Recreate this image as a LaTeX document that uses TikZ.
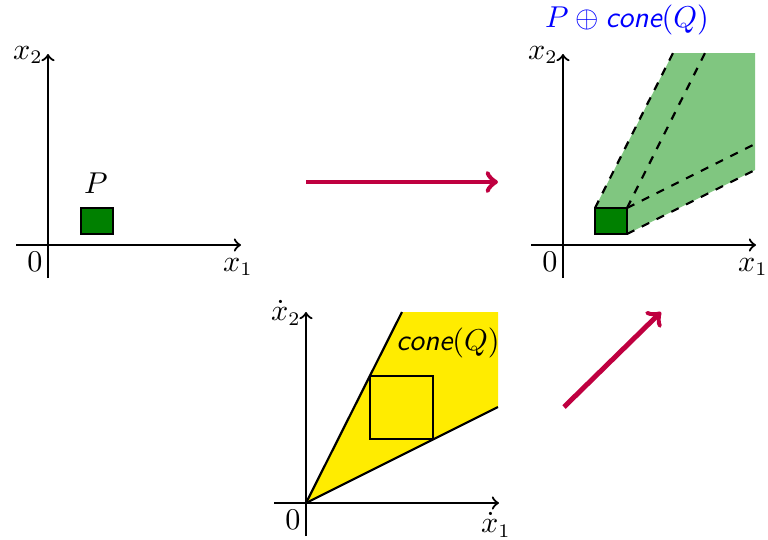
\documentclass[tikz,border=0pt]{standalone}
\usetikzlibrary{positioning}
\definecolor{conegreen}{RGB}{128,198,128}
\definecolor{coneyellow}{RGB}{255,236,0}
\tikzset{
  axis/.style    = {thick, ->},
  lbl/.style     = {inner sep=1pt, font=\fontsize{10.7}{13}\selectfont},
  setbox/.style  = {thick, draw=black},
  ray/.style     = {thick, dashed},
  mapsto/.style  = {->, line width=1.8pt, purple}
}

\begin{document}
\begin{tikzpicture}[x=0.01277cm, y=-0.01277cm]
  \useasboundingbox (0,0) rectangle (768,539);
  % cone(Q) region and Minkowski sum region
  \fill[coneyellow] (306,503) -- (402,312) -- (498,312) -- (498,407) -- cycle;
  \fill[conegreen] (595,234) -- (595,208) -- (673,53) -- (755,53) -- (755,170) -- (627,234) -- cycle;
  % axes
  \foreach \n/\ox/\oy/\xa/\xb in {L/48/245/{x_1}/{x_2}, R/563/245/{x_1}/{x_2}, C/306/503/{\dot x_1}/{\dot x_2}} {
    \begin{scope}[shift={(\ox,\oy)}]
      \coordinate (\n w) at (-32,0);  \coordinate (\n e) at (193,0);
      \coordinate (\n s) at (0,33);   \coordinate (\n n) at (0,-191);
      \draw[axis] (\n w) -- (\n e);
      \draw[axis] (\n s) -- (\n n);
      \node[lbl] (\n0) at (-13,17) {$0$};
      \node[lbl] (\n1) at (190,22) {$\xa$};
      \node[lbl] (\n2) at (-20,-190) {$\xb$};
    \end{scope}
  }
  % left: the set P
  \draw[setbox, fill=green!50!black] (81,208) rectangle (113,234);
  \node[lbl] (P) at (96,183) {$P$};
  % right: P + cone(Q)
  \coordinate (a) at (595,208); \coordinate (b) at (627,208); \coordinate (c) at (627,234);
  \draw[ray] (a) -- (673,53);
  \draw[ray] (b) -- (705,53);
  \draw[ray] (b) -- (755,144);
  \draw[ray] (c) -- (755,170);
  \draw[setbox, fill=green!50!black] (595,208) rectangle (627,234);
  \node[lbl, blue] (PQ) at (627,20) {$P \oplus \textsf{\itshape cone}(Q)$};
  % bottom: cone(Q)
  \coordinate (o) at (306,503);
  \draw[thick] (o) -- (402,312);
  \draw[thick] (o) -- (498,407);
  \draw[setbox] (370,376) rectangle (433,439);
  \node[lbl] (Q) at (448,343) {$\textsf{\itshape cone}(Q)$};
  % maps
  \coordinate (m1) at (306,182); \coordinate (m2) at (498,182);
  \coordinate (m3) at (564,407); \coordinate (m4) at (661,312);
  \draw[mapsto] (m1) -- (m2);
  \draw[mapsto] (m3) -- (m4);
\end{tikzpicture}
\end{document}
